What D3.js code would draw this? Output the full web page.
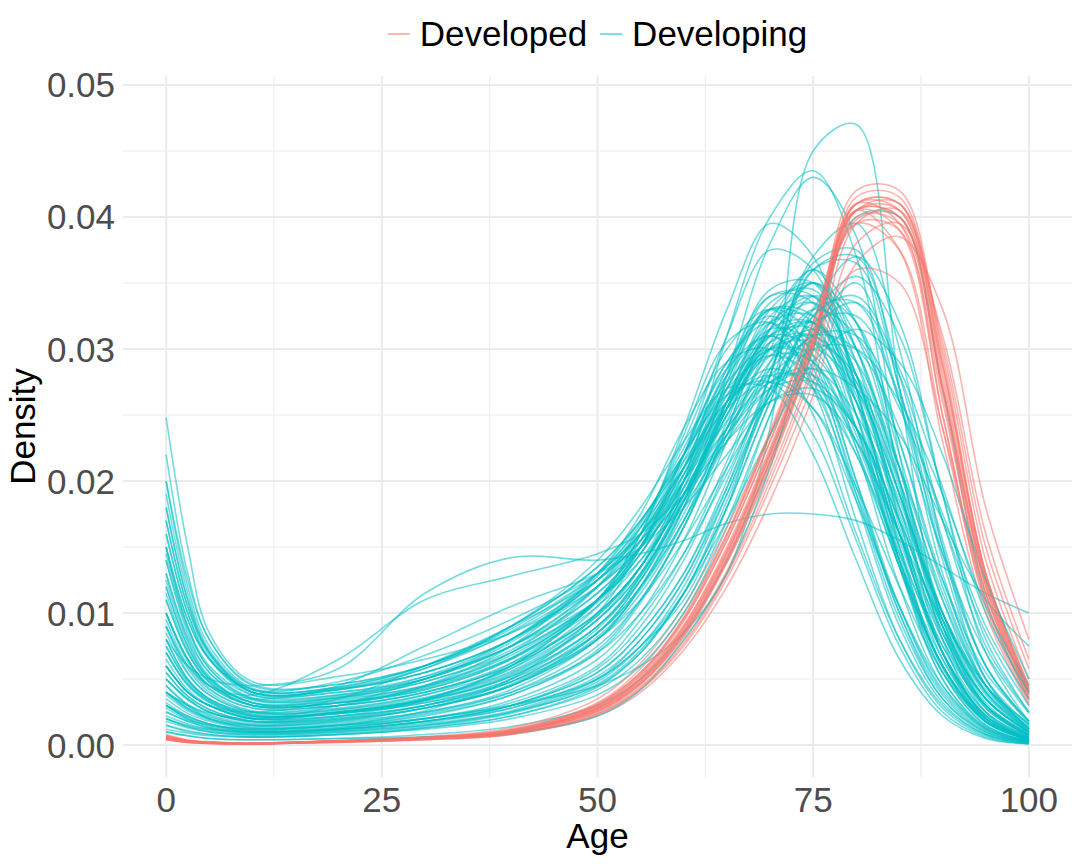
<!DOCTYPE html>
<html>
<head>
<meta charset="utf-8">
<script src="https://cdn.jsdelivr.net/npm/d3@7"></script>
<style>
  body { margin: 0; background: #fff; }
  text { font-family: "Liberation Sans", Arial, sans-serif; }
</style>
</head>
<body>
<svg id="chart" width="1080" height="864"></svg>
<script>
const ages = [0, 2.5, 5, 10, 20, 30, 40, 50, 55, 60, 65, 70, 75, 80, 85, 90, 95, 100];

// densities in thousandths (25 -> 0.025), one row per country
const developed = [
  [.6, .3, .2, .1, .3, .5, 1, 2.8, 5, 8.8, 14.5, 22, 30.5, 40.5, 40, 27, 12.5, 4],
  [.5, .25, .15, .1, .25, .45, .9, 2.5, 4.6, 8.2, 13.8, 21, 30, 41.5, 41.5, 29, 13, 4.5],
  [.7, .35, .2, .15, .35, .6, 1.2, 3.2, 5.8, 10, 16, 23.5, 32, 40.5, 37.5, 23, 10, 3],
  [.4, .2, .12, .1, .2, .4, .8, 2.2, 4, 7.2, 12, 18.5, 26.5, 36.5, 38.5, 33, 18, 8],
  [.6, .3, .2, .12, .3, .55, 1.1, 3, 5.3, 9.4, 15.5, 23, 31.5, 40.5, 39, 25, 11, 3.5],
  [.5, .25, .15, .1, .28, .5, 1, 2.7, 4.8, 8.6, 14.2, 21.5, 30, 40.5, 40.5, 28.5, 13, 4.5],
  [.8, .4, .25, .15, .35, .65, 1.3, 3.5, 6.2, 10.5, 16.5, 23.5, 30.5, 36, 35, 24, 11.5, 4],
  [.45, .22, .14, .1, .25, .45, .85, 2.4, 4.4, 7.9, 13.2, 20.5, 29, 40.5, 41, 30, 14, 5],
  [.6, .3, .18, .12, .3, .5, 1, 2.9, 5.2, 9.1, 15, 22.5, 31, 39.5, 39, 26, 11.5, 3.8],
  [.5, .25, .16, .1, .26, .48, .95, 2.6, 4.7, 8.4, 14, 21.5, 30.3, 41, 40.5, 27.5, 12.2, 4],
  [.7, .35, .22, .14, .32, .58, 1.15, 3.1, 5.5, 9.6, 15.8, 23.5, 32, 41, 39.5, 25, 10.5, 3.2],
  [.4, .2, .12, .08, .22, .42, .82, 2.3, 4.2, 7.5, 12.6, 19.5, 27.5, 38, 39.5, 31, 16, 6.5],
  [.55, .28, .17, .11, .28, .5, 1, 2.75, 4.9, 8.7, 14.5, 22, 30.5, 41, 41, 28, 12.5, 4.2],
  [.65, .32, .2, .13, .3, .56, 1.1, 3, 5.4, 9.5, 15.5, 23, 31.2, 39.8, 40, 26.5, 11.5, 3.6],
  [.5, .25, .15, .1, .27, .48, .96, 2.65, 4.75, 8.5, 14.2, 21.8, 30.8, 42, 42, 29.5, 13, 4.2],
  [.6, .3, .19, .12, .3, .52, 1.05, 2.85, 5.1, 9, 14.8, 22.3, 30.8, 40, 39.5, 27, 12, 3.8],
  [.5, .25, .15, .1, .25, .46, .92, 2.55, 4.6, 8.3, 13.9, 21.2, 30, 41, 41, 28.8, 12.8, 4.3],
  [.7, .34, .21, .14, .32, .58, 1.14, 3.1, 5.5, 9.7, 16, 23.8, 32, 39.5, 37.5, 24, 10.8, 3.4],
  [.45, .22, .13, .09, .23, .43, .84, 2.35, 4.3, 7.7, 12.9, 20, 28.5, 39.5, 40.5, 30.5, 15, 5.8],
  [.6, .3, .18, .12, .3, .52, 1.02, 2.8, 5, 8.9, 14.7, 22.2, 30.8, 40.5, 40, 27, 12, 3.9]
];

const developing = [
  [24.8, 15, 8.5, 4.8, 5.2, 6.5, 8.5, 12, 15, 19, 24, 28, 30, 27, 19, 10, 4, 1.2],
  [8, 6, 5, 4.5, 5.8, 11.5, 14.2, 14, 14.5, 15.5, 16.8, 17.5, 17.5, 17, 15.5, 13.5, 11.5, 10],
  [3, 2, 1.5, 1.2, 1.5, 2, 3, 4.5, 6, 8.5, 13, 24, 45, 47, 27, 9, 2.5, .4],
  [5, 3.5, 2.5, 1.8, 2, 3, 5, 9, 13, 20, 31, 40, 43.5, 37, 20, 7, 1.8, .4],
  [4, 3, 2, 1.5, 1.8, 2.8, 4.5, 8, 12, 18, 28, 38, 43, 38.5, 22, 8, 2, .5],
  [6, 4, 3, 2, 2.5, 3.5, 6, 11, 16, 24, 33, 39.5, 37, 27, 14, 5, 1.3, .3],
  [2, 1.5, 1.2, 1, 1.3, 2, 3, 5, 7.5, 11, 18, 28, 37, 39.5, 30, 15, 5, 1.2],
  [10, 6.5, 4.5, 3, 3.5, 4.5, 7, 11, 15, 22, 31, 37.5, 36, 27, 15, 6, 1.8, .4],
  [12, 7.5, 5, 3.2, 3, 4, 6, 10, 13.5, 19, 25, 30, 32, 28, 19, 9.5, 3.5, 1],
  [15, 9, 6, 3.8, 4, 5, 7.5, 11.5, 15, 20, 26, 30.5, 31, 26, 16, 7, 2.2, .5],
  [3, 2, 1.5, 1, 1.2, 1.8, 3, 5.5, 8.5, 13, 20, 28, 36, 36.5, 27, 15, 6, 1.8],
  [6, 4, 3, 2, 2.2, 3, 4.5, 8, 11.5, 17, 24.5, 32, 36, 32, 21, 9.5, 3, .7],
  [9, 5.5, 3.8, 2.5, 2.6, 3.5, 5.5, 9.5, 13, 18.5, 25.5, 31.5, 34, 30, 20, 9, 3, .6],
  [2, 1.4, 1, .8, 1, 1.5, 2.5, 4.5, 7, 11.5, 18, 26, 32.5, 35.5, 31, 19, 8, 2.5],
  [18, 11, 7, 4, 4.2, 5.5, 8, 12.5, 16, 21, 26.5, 30, 29.5, 24, 15, 7, 2.5, .6],
  [4, 2.8, 2, 1.4, 1.6, 2.4, 4, 7.5, 11, 16.5, 23.5, 30, 35, 30, 20, 10, 3.8, 1.1],
  [7, 4.5, 3.2, 2.2, 2.5, 3.4, 5.2, 9, 12.5, 18, 25, 30.5, 32, 27.5, 18, 8.5, 3, .8],
  [1.5, 1, .8, .6, .8, 1.2, 2, 3.8, 6, 10, 16.5, 25, 33, 37, 32, 19, 7, 1.8],
  [1, .7, .5, .4, .5, .8, 1.4, 3, 5, 8.5, 14, 21.5, 30, 40, 40, 27, 11, 3.5],
  [11, 7, 4.8, 3, 3.2, 4.2, 6.5, 11, 15, 21, 28.5, 34, 33.5, 25, 13.5, 5, 1.4, .3],
  [14, 8.5, 5.5, 3.4, 3.6, 4.8, 7, 11, 14, 18.5, 23.5, 27.5, 28.5, 25, 18, 10, 4.5, 1.6],
  [5, 3.4, 2.5, 1.7, 1.9, 2.8, 4.5, 8.5, 12.5, 18.5, 26, 33, 35, 29, 17, 7, 2, .5],
  [20, 12, 7.5, 4.3, 4.3, 5.5, 8, 12, 15, 19, 23.5, 27, 27.5, 24, 17, 9, 3.5, 1],
  [3.5, 2.4, 1.8, 1.2, 1.4, 2, 3.4, 6.5, 10, 15.5, 23, 30.5, 35, 32, 22, 11, 4, 1],
  [8, 5, 3.5, 2.3, 2.4, 3.2, 5, 8.5, 12, 17, 23.5, 29, 31.5, 29, 21, 11.5, 4.5, 1.3],
  [2.5, 1.8, 1.3, .9, 1.1, 1.6, 2.6, 5, 8, 12.5, 19.5, 28, 36.5, 37.5, 27, 14, 5, 1.2],
  [16, 10, 6.5, 3.8, 3.8, 5, 7.5, 12, 15.5, 21, 27, 31.5, 30.5, 24, 14, 6, 1.8, .4],
  [6.5, 4.2, 3, 2, 2.2, 3, 4.8, 8.5, 12, 17.5, 24, 29.5, 31, 27.5, 20, 11, 4.5, 1.4],
  [1.2, .9, .7, .6, .8, 1.3, 2.2, 4.2, 6.5, 10.5, 17, 25, 31.5, 33.5, 28, 17, 7.5, 2.5],
  [13, 8, 5.2, 3.2, 3.4, 4.5, 6.8, 11, 14.5, 20, 26.5, 31, 30, 23.5, 14, 6, 2, .5],
  [4.5, 3, 2.2, 1.5, 1.7, 2.5, 4.2, 8, 12, 18, 25.5, 31.5, 32, 26, 16, 7, 2.2, .5],
  [9.5, 6, 4.2, 2.8, 3, 4, 6.2, 10, 13.5, 19, 25.5, 30, 31, 27, 19, 10, 4, 1.2],
  [2, 1.4, 1.1, .8, 1, 1.5, 2.5, 4.8, 7.5, 12, 19, 27, 33, 33.5, 26, 14.5, 6, 1.8],
  [17, 10.5, 6.8, 4, 4.2, 5.5, 8, 12.5, 16, 21, 26, 28.5, 27, 22, 14.5, 7.5, 3, .9],
  [7.5, 4.8, 3.4, 2.3, 2.5, 3.4, 5.3, 9.5, 13.5, 20, 27.5, 33, 32.5, 25, 14, 5.5, 1.5, .3],
  [3, 2.1, 1.6, 1.1, 1.3, 2, 3.2, 6, 9.5, 14.5, 21.5, 29, 34, 32, 23, 12, 4.5, 1.2],
  [11.5, 7.2, 4.8, 3, 3.2, 4.2, 6.5, 10.5, 14, 19.5, 26, 31, 32, 27, 17.5, 8, 2.8, .7],
  [5.5, 3.7, 2.7, 1.8, 2, 2.8, 4.5, 8.2, 11.8, 17, 23, 28.5, 30.5, 28, 21, 12.5, 5.5, 1.8],
  [22, 13, 8, 4.5, 4.6, 6, 8.5, 12.5, 15.5, 19.5, 24, 27.5, 28, 24, 16, 8, 3, .8],
  [1.8, 1.3, 1, .7, .9, 1.4, 2.4, 4.6, 7.2, 11.5, 18.5, 27, 36, 37, 28, 15.5, 6, 1.6],
  [10, 6.3, 4.3, 2.8, 3, 4, 6, 10, 13.5, 19, 26, 32.5, 34, 28, 17, 7, 2.2, .5],
  [4, 2.7, 2, 1.3, 1.5, 2.2, 3.8, 7.2, 11, 16.5, 24, 31, 33.5, 29, 19, 9, 3, .8],
  [14.5, 9, 5.8, 3.5, 3.6, 4.8, 7.2, 11.5, 15, 20.5, 27, 32, 32.5, 26.5, 16, 7, 2.3, .6],
  [8.5, 5.4, 3.8, 2.5, 2.7, 3.6, 5.6, 9.8, 13.5, 19.5, 27, 33.5, 34.5, 28, 16.5, 6.5, 2, .4],
  [2.8, 1.9, 1.4, 1, 1.2, 1.8, 3, 5.8, 9, 14, 21, 28.5, 33, 31, 23, 12.5, 5, 1.5],
  [6, 4, 3, 2.1, 2.4, 3.4, 5.4, 9.5, 13, 18, 23, 27, 28.5, 27, 23.5, 17, 11, 7.5],
  [19, 11.5, 7.2, 4.2, 4.4, 6, 9, 13.5, 17, 22, 27, 29.5, 28, 23, 16, 9.5, 4.5, 1.6],
  [3.2, 2.2, 1.6, 1.1, 1.2, 1.8, 3, 5.5, 8.5, 13, 19.5, 26.5, 31, 30, 24, 14.5, 7, 2.4],
  [12.5, 7.8, 5.1, 3.2, 3.3, 4.4, 6.6, 10.8, 14.5, 20.5, 28, 34.5, 35, 27, 15, 5.8, 1.7, .4],
  [7, 4.6, 3.3, 2.2, 2.4, 3.3, 5.2, 9, 12.8, 18.5, 25, 30, 30.5, 26, 18.5, 10, 4.2, 1.3],
  [1, .7, .5, .4, .5, .6, .9, 2.2, 4.2, 8, 13, 21, 31, 35, 26, 13, 4.5, 1],
  [10, 6.5, 4.5, 3.5, 4.5, 7.5, 10.5, 13, 15, 18, 22, 26, 27, 24, 17, 9, 3.5, 1],
  [6, 4, 3, 2.5, 3.5, 6, 9, 12.5, 15.5, 20, 25.5, 29.5, 29, 23, 14, 6.5, 2.2, .5],
  [15, 9.5, 6.5, 4.2, 4.8, 6.8, 9.5, 13, 16, 20.5, 26, 30, 29, 22.5, 13.5, 6, 2, .5],
  [4, 3, 2.4, 2, 3, 5, 7.5, 11, 14.5, 20, 27.5, 34, 34, 26, 14.5, 6, 1.8, .4],
  [8, 5, 3.5, 2.5, 3, 4.5, 7.5, 13, 17.5, 24, 29, 30, 25, 16, 8, 3, .8, .2],
  [12, 7.5, 5, 3.2, 3.6, 5, 8, 13, 17, 22, 26.5, 27.5, 23.5, 15.5, 7.5, 2.5, .6, .1],
  [5, 3.5, 2.5, 1.8, 2.2, 3.4, 6, 11, 16, 23.5, 30.5, 32, 27, 17, 8, 2.8, .7, .1],
  [15, 9.5, 6.5, 4, 4.2, 5.8, 9, 14, 18, 23, 27, 27, 22, 14, 6.5, 2.2, .5, .1],
  [3, 2.2, 1.6, 1.2, 1.5, 2.6, 5, 10, 15, 22, 29, 32, 28.5, 19, 9.5, 3.5, 1, .2],
  [2.5, 1.8, 1.3, 1, 1.2, 1.8, 2.8, 5, 7.5, 11.5, 17, 23.5, 29, 31.5, 29, 22, 12.5, 5],
  [6, 4, 3, 2, 2.4, 3.2, 4.8, 8, 11, 15.5, 21, 26.5, 30, 30, 26, 19, 10.5, 4.5],
  [4, 2.8, 2.1, 1.5, 1.8, 2.5, 4, 7, 10, 14.5, 20.5, 27, 31, 31, 25.5, 17.5, 9, 3.5],
  [9, 6, 4.5, 3.8, 6.5, 11, 12.8, 14.5, 16, 19, 23, 26, 26.5, 23, 16, 8.5, 3.5, 1],
  [18, 11, 7, 4, 4, 5.2, 7.5, 12, 16, 22, 28, 31, 28, 19.5, 10, 3.8, 1, .2],
  [10, 6.5, 4.5, 3, 3.2, 4.4, 7, 12, 16.5, 23, 30, 33, 29.5, 20, 10, 3.5, .9, .2],
  [7, 4.6, 3.3, 2.2, 2.5, 3.5, 5.8, 10.5, 15, 21.5, 28.5, 33, 31, 22.5, 12, 4.5, 1.2, .2],
  [13, 8.2, 5.5, 3.5, 3.7, 5, 7.8, 12.5, 16.5, 22, 27.5, 30, 27, 19, 10.5, 4.2, 1.2, .3],
  [16, 10, 6.6, 4, 4.3, 5.8, 8.6, 13, 16.5, 21, 25.5, 27.5, 25.5, 19.5, 12, 5.5, 1.8, .4],
  [4.5, 3.1, 2.3, 1.6, 1.9, 2.8, 4.6, 8.5, 12.5, 18.5, 25.5, 31, 31.5, 25, 15.5, 7.5, 2.5, .6],
  [9, 5.8, 4, 2.6, 2.8, 3.8, 5.8, 9.8, 13.5, 19, 25.5, 31.5, 36, 30, 19.5, 9.5, 3.2, .8],
  [2.2, 1.6, 1.2, .9, 1.1, 1.7, 2.8, 5.2, 8, 12.5, 19, 26.5, 32, 32.5, 26.5, 17, 8.5, 3],
  [20, 12.5, 8, 4.6, 4.6, 6, 8.8, 13, 16, 20, 24.5, 28, 27.5, 22, 13.5, 6, 1.8, .4],
  [11, 7, 4.7, 3, 3.2, 4.3, 6.6, 11, 15, 21, 28, 33, 32, 24, 13.5, 5.5, 1.5, .3],
  [5.5, 3.7, 2.7, 1.8, 2.1, 3, 4.8, 8.8, 12.8, 18.8, 26, 32, 33.5, 28, 18, 8.5, 2.8, .7],
  [14, 8.8, 5.8, 3.6, 3.8, 5.2, 8, 12.8, 16.8, 22.5, 28.5, 31, 27.5, 18.5, 9, 3.2, .8, .1],
  [3.8, 2.6, 1.9, 1.3, 1.5, 2.3, 3.8, 7, 10.8, 16.5, 24, 31.5, 35, 31, 21, 10, 3.5, .9],
  [7.5, 4.9, 3.5, 2.4, 2.7, 3.8, 6.2, 11, 15.5, 22, 29, 32.5, 29, 20, 10.5, 4, 1.1, .2],
  [17, 10.5, 7, 4.2, 4.4, 6, 9, 13.5, 17, 21.5, 26, 28, 25.5, 18.5, 10.5, 4.5, 1.3, .3],
  [1.5, 1.1, .8, .6, .8, 1.3, 2.2, 4.4, 7, 11.5, 18, 26, 32.5, 34, 28.5, 19.5, 10, 4]
];

const groups = ['Developed', 'Developing'];
const groupColors = ['#F8766D', '#00BFC4'];

const xTicks = [0, 25, 50, 75, 100];
const xMinor = [12.5, 37.5, 62.5, 87.5];
const yTicks = [0, 0.01, 0.02, 0.03, 0.04, 0.05];
const yMinor = [0.005, 0.015, 0.025, 0.035, 0.045];


// Setup

const panel = { left: 123, right: 1072, top: 76, bottom: 777 };
const svg = d3.select('#chart');

const x = d3.scaleLinear().domain([-5, 105]).range([panel.left, panel.right]);
const y = d3.scaleLinear().domain([-0.00242, 0.05068]).range([panel.bottom, panel.top]);
const color = d3.scaleOrdinal(groups, groupColors);

const line = d3.line()
  .x((d, i) => x(ages[i]))
  .y(d => y(d / 1000))
  .curve(d3.curveCatmullRom.alpha(0.5));


// Grid

const grid = svg.append('g').attr('stroke', '#EBEBEB').attr('fill', 'none');

grid.selectAll('.xminor').data(xMinor).enter().append('line')
  .attr('x1', d => x(d)).attr('x2', d => x(d))
  .attr('y1', panel.top).attr('y2', panel.bottom)
  .attr('stroke-width', 1.1);

grid.selectAll('.yminor').data(yMinor).enter().append('line')
  .attr('x1', panel.left).attr('x2', panel.right)
  .attr('y1', d => y(d)).attr('y2', d => y(d))
  .attr('stroke-width', 1.1);

grid.selectAll('.xmajor').data(xTicks).enter().append('line')
  .attr('x1', d => x(d)).attr('x2', d => x(d))
  .attr('y1', panel.top).attr('y2', panel.bottom)
  .attr('stroke-width', 2);

grid.selectAll('.ymajor').data(yTicks).enter().append('line')
  .attr('x1', panel.left).attr('x2', panel.right)
  .attr('y1', d => y(d)).attr('y2', d => y(d))
  .attr('stroke-width', 2);


// Curves, interleaved like country groups drawn in turn

const curves = [];
developing.forEach((values, i) => {
  curves.push({ group: 'Developing', values });
  if (i % 4 === 2 && developed[(i - 2) / 4] !== undefined) {
    curves.push({ group: 'Developed', values: developed[(i - 2) / 4] });
  }
});
developed.slice(curves.filter(c => c.group === 'Developed').length)
  .forEach(values => curves.push({ group: 'Developed', values }));

svg.append('g')
  .selectAll('path')
  .data(curves)
  .enter()
  .append('path')
  .attr('d', d => line(d.values))
  .attr('fill', 'none')
  .attr('stroke', d => color(d.group))
  .attr('stroke-width', 1.6)
  .attr('stroke-opacity', 0.55);


// Axis labels

svg.append('g')
  .selectAll('text')
  .data(yTicks)
  .enter()
  .append('text')
  .attr('x', 115)
  .attr('y', d => y(d) + 12.5)
  .attr('text-anchor', 'end')
  .attr('font-size', 35)
  .attr('fill', '#4D4D4D')
  .text(d3.format('.2f'));

svg.append('g')
  .selectAll('text')
  .data(xTicks)
  .enter()
  .append('text')
  .attr('x', d => x(d))
  .attr('y', 812)
  .attr('text-anchor', 'middle')
  .attr('font-size', 35)
  .attr('fill', '#4D4D4D')
  .text(d => d);

svg.append('text')
  .attr('x', (panel.left + panel.right) / 2)
  .attr('y', 848)
  .attr('text-anchor', 'middle')
  .attr('font-size', 35)
  .attr('fill', '#000')
  .text('Age');

svg.append('text')
  .attr('transform', `translate(35,${(panel.top + panel.bottom) / 2}) rotate(-90)`)
  .attr('text-anchor', 'middle')
  .attr('font-size', 35)
  .attr('fill', '#000')
  .text('Density');


// Legend

const legend = svg.append('g');
let cursor = 0;
groups.forEach(g => {
  const item = legend.append('g').attr('transform', `translate(${cursor},0)`);
  item.append('line')
    .attr('x1', 0).attr('x2', 22)
    .attr('y1', 34).attr('y2', 34)
    .attr('stroke', color(g))
    .attr('stroke-width', 2)
    .attr('stroke-opacity', 0.5);
  const label = item.append('text')
    .attr('x', 32)
    .attr('y', 46)
    .attr('font-size', 35)
    .attr('fill', '#000')
    .text(g);
  cursor += 32 + label.node().getComputedTextLength() + 13;
});
legend.attr('transform', `translate(${(panel.left + panel.right) / 2 - (cursor - 13) / 2},0)`);
</script>
</body>
</html>
